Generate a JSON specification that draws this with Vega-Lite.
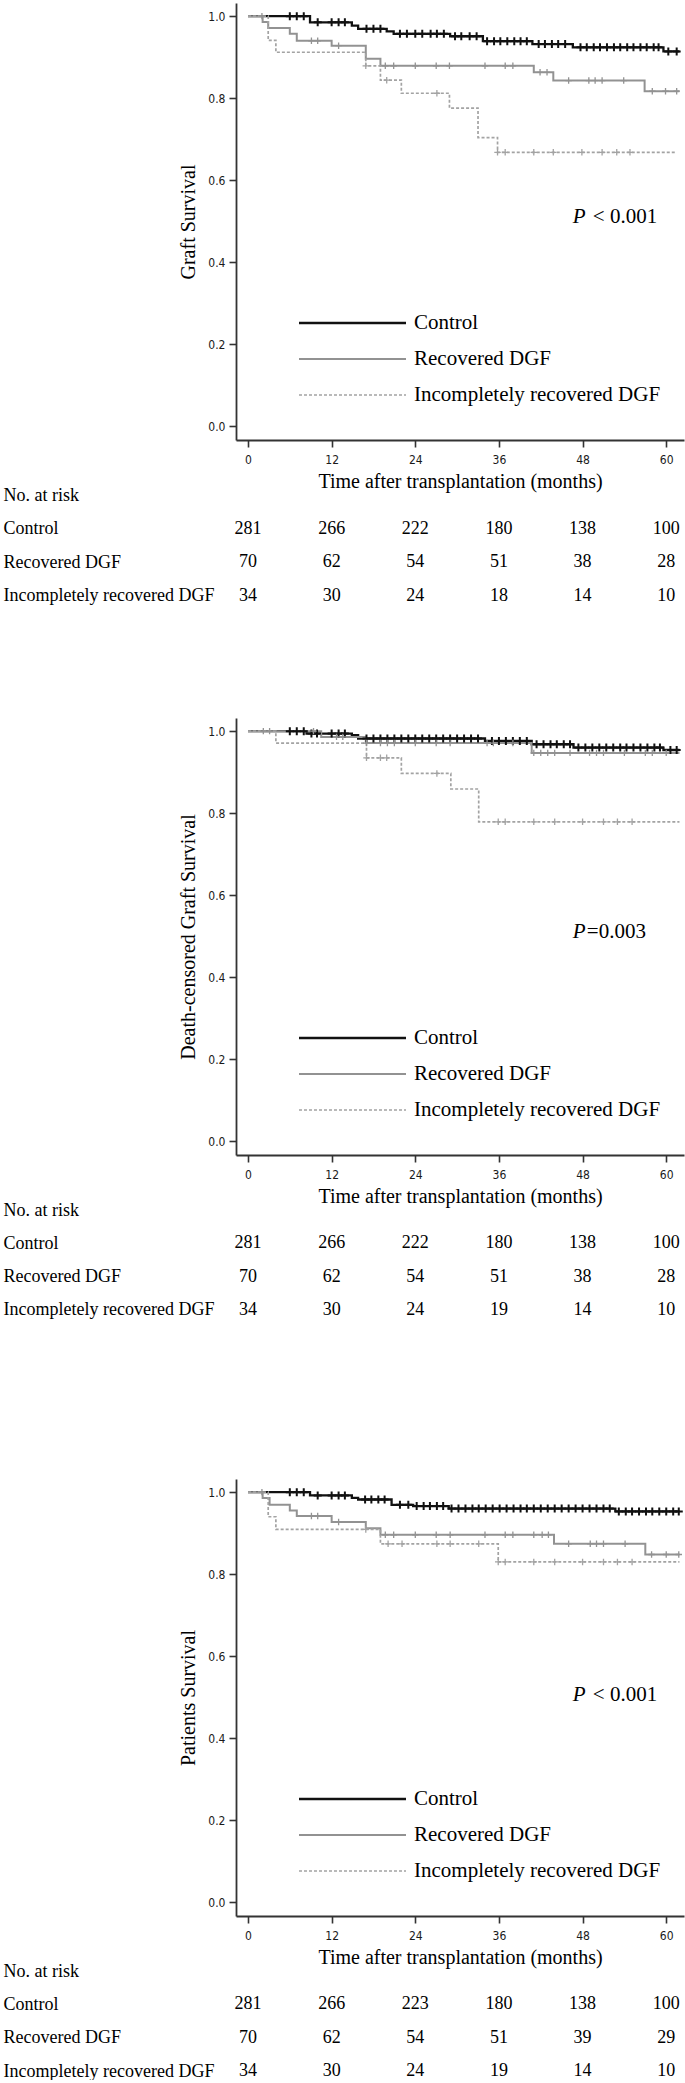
{
  "$schema": "https://vega.github.io/schema/vega-lite/v6.json",
  "background": "white",
  "padding": {"left": 3, "top": 3, "right": 0, "bottom": 0},
  "bounds": "flush",
  "spacing": 55,
  "config": {
    "view": {"stroke": null},
    "font": "Liberation Serif",
    "axis": {"grid": false, "labelFont": "Liberation Sans Narrow, Arial Narrow, DejaVu Sans Condensed, Liberation Sans, sans-serif", "labelFontSize": 12, "labelColor": "#1a1a1a", "tickColor": "#333333", "domainColor": "#333333", "tickSize": 7, "tickWidth": 1.6, "domainWidth": 1.8, "titleFont": "Liberation Serif", "titleFontSize": 20, "titleFontWeight": "normal", "titleColor": "#000000", "labelFlush": false}
  },
  "resolve": {
    "scale": {"x": "independent", "y": "independent", "color": "independent", "strokeDash": "independent", "strokeWidth": "independent"},
    "legend": {"color": "independent", "strokeDash": "independent", "strokeWidth": "independent"}
  },
  "datasets": {
    "curves": [
      {"panel":"G","group":"Control","t":0,"s":1},{"panel":"G","group":"Control","t":8.9,"s":0.985},{"panel":"G","group":"Control","t":14.9,"s":0.977},{"panel":"G","group":"Control","t":15.8,"s":0.969},{"panel":"G","group":"Control","t":19.9,"s":0.963},{"panel":"G","group":"Control","t":20.9,"s":0.957},{"panel":"G","group":"Control","t":29,"s":0.951},{"panel":"G","group":"Control","t":33.7,"s":0.939},{"panel":"G","group":"Control","t":40.8,"s":0.932},{"panel":"G","group":"Control","t":46.6,"s":0.924},{"panel":"G","group":"Control","t":59.6,"s":0.914},{"panel":"G","group":"Control","t":61.9,"s":0.914},
      {"panel":"G","group":"Recovered DGF","t":0,"s":1},{"panel":"G","group":"Recovered DGF","t":2.1,"s":0.986},{"panel":"G","group":"Recovered DGF","t":2.9,"s":0.971},{"panel":"G","group":"Recovered DGF","t":6,"s":0.957},{"panel":"G","group":"Recovered DGF","t":7,"s":0.94},{"panel":"G","group":"Recovered DGF","t":12,"s":0.928},{"panel":"G","group":"Recovered DGF","t":16.9,"s":0.896},{"panel":"G","group":"Recovered DGF","t":19,"s":0.879},{"panel":"G","group":"Recovered DGF","t":41,"s":0.863},{"panel":"G","group":"Recovered DGF","t":43.8,"s":0.843},{"panel":"G","group":"Recovered DGF","t":56.9,"s":0.817},{"panel":"G","group":"Recovered DGF","t":61.9,"s":0.817},
      {"panel":"G","group":"Incompletely recovered DGF","t":0,"s":1},{"panel":"G","group":"Incompletely recovered DGF","t":2.9,"s":0.941},{"panel":"G","group":"Incompletely recovered DGF","t":4,"s":0.912},{"panel":"G","group":"Incompletely recovered DGF","t":16.9,"s":0.879},{"panel":"G","group":"Incompletely recovered DGF","t":19,"s":0.844},{"panel":"G","group":"Incompletely recovered DGF","t":22,"s":0.812},{"panel":"G","group":"Incompletely recovered DGF","t":28.9,"s":0.776},{"panel":"G","group":"Incompletely recovered DGF","t":33,"s":0.704},{"panel":"G","group":"Incompletely recovered DGF","t":35.8,"s":0.668},{"panel":"G","group":"Incompletely recovered DGF","t":61.5,"s":0.668},
      {"panel":"D","group":"Control","t":0,"s":1},{"panel":"D","group":"Control","t":8.4,"s":0.994},{"panel":"D","group":"Control","t":14.9,"s":0.99},{"panel":"D","group":"Control","t":15.8,"s":0.982},{"panel":"D","group":"Control","t":34,"s":0.976},{"panel":"D","group":"Control","t":40.7,"s":0.968},{"panel":"D","group":"Control","t":46.7,"s":0.96},{"panel":"D","group":"Control","t":59.6,"s":0.954},{"panel":"D","group":"Control","t":61.9,"s":0.954},
      {"panel":"D","group":"Recovered DGF","t":0,"s":1},{"panel":"D","group":"Recovered DGF","t":10.5,"s":0.986},{"panel":"D","group":"Recovered DGF","t":16.9,"s":0.971},{"panel":"D","group":"Recovered DGF","t":40.7,"s":0.947},{"panel":"D","group":"Recovered DGF","t":61.9,"s":0.947},
      {"panel":"D","group":"Incompletely recovered DGF","t":0,"s":1},{"panel":"D","group":"Incompletely recovered DGF","t":4,"s":0.971},{"panel":"D","group":"Incompletely recovered DGF","t":17,"s":0.935},{"panel":"D","group":"Incompletely recovered DGF","t":22,"s":0.897},{"panel":"D","group":"Incompletely recovered DGF","t":29.1,"s":0.859},{"panel":"D","group":"Incompletely recovered DGF","t":33.1,"s":0.779},{"panel":"D","group":"Incompletely recovered DGF","t":61.9,"s":0.779},
      {"panel":"P","group":"Control","t":0,"s":1},{"panel":"P","group":"Control","t":8.9,"s":0.992},{"panel":"P","group":"Control","t":14.9,"s":0.986},{"panel":"P","group":"Control","t":15.8,"s":0.982},{"panel":"P","group":"Control","t":20.6,"s":0.969},{"panel":"P","group":"Control","t":23.7,"s":0.966},{"panel":"P","group":"Control","t":28.8,"s":0.96},{"panel":"P","group":"Control","t":52.7,"s":0.953},{"panel":"P","group":"Control","t":61.9,"s":0.953},
      {"panel":"P","group":"Recovered DGF","t":0,"s":1},{"panel":"P","group":"Recovered DGF","t":2.1,"s":0.986},{"panel":"P","group":"Recovered DGF","t":3.1,"s":0.969},{"panel":"P","group":"Recovered DGF","t":6,"s":0.955},{"panel":"P","group":"Recovered DGF","t":7,"s":0.942},{"panel":"P","group":"Recovered DGF","t":12,"s":0.927},{"panel":"P","group":"Recovered DGF","t":16.9,"s":0.912},{"panel":"P","group":"Recovered DGF","t":19,"s":0.896},{"panel":"P","group":"Recovered DGF","t":43.9,"s":0.874},{"panel":"P","group":"Recovered DGF","t":57,"s":0.848},{"panel":"P","group":"Recovered DGF","t":61.9,"s":0.848},
      {"panel":"P","group":"Incompletely recovered DGF","t":0,"s":1},{"panel":"P","group":"Incompletely recovered DGF","t":2.9,"s":0.94},{"panel":"P","group":"Incompletely recovered DGF","t":4,"s":0.909},{"panel":"P","group":"Incompletely recovered DGF","t":19,"s":0.874},{"panel":"P","group":"Incompletely recovered DGF","t":35.9,"s":0.83},{"panel":"P","group":"Incompletely recovered DGF","t":61.9,"s":0.83}
    ],
    "censor": [
      {"panel":"G","group":"Control","t":6,"s":1},{"panel":"G","group":"Control","t":7,"s":1},{"panel":"G","group":"Control","t":8,"s":1},
      {"panel":"G","group":"Control","t":10,"s":0.985},{"panel":"G","group":"Control","t":12,"s":0.985},{"panel":"G","group":"Control","t":13,"s":0.985},{"panel":"G","group":"Control","t":13.9,"s":0.985},
      {"panel":"G","group":"Control","t":17,"s":0.969},{"panel":"G","group":"Control","t":18,"s":0.969},{"panel":"G","group":"Control","t":19,"s":0.969},
      {"panel":"G","group":"Control","t":21.8,"s":0.957},{"panel":"G","group":"Control","t":22.8,"s":0.957},{"panel":"G","group":"Control","t":24,"s":0.957},{"panel":"G","group":"Control","t":25,"s":0.957},{"panel":"G","group":"Control","t":26.2,"s":0.957},{"panel":"G","group":"Control","t":27.1,"s":0.957},{"panel":"G","group":"Control","t":28.1,"s":0.957},
      {"panel":"G","group":"Control","t":29.7,"s":0.951},{"panel":"G","group":"Control","t":30.6,"s":0.951},{"panel":"G","group":"Control","t":31.8,"s":0.951},{"panel":"G","group":"Control","t":32.8,"s":0.951},
      {"panel":"G","group":"Control","t":34.3,"s":0.939},{"panel":"G","group":"Control","t":35.3,"s":0.939},{"panel":"G","group":"Control","t":36.2,"s":0.939},{"panel":"G","group":"Control","t":37.2,"s":0.939},{"panel":"G","group":"Control","t":38.2,"s":0.939},{"panel":"G","group":"Control","t":39.1,"s":0.939},{"panel":"G","group":"Control","t":40,"s":0.939},
      {"panel":"G","group":"Control","t":41.7,"s":0.932},{"panel":"G","group":"Control","t":42.6,"s":0.932},{"panel":"G","group":"Control","t":43.6,"s":0.932},{"panel":"G","group":"Control","t":44.5,"s":0.932},{"panel":"G","group":"Control","t":45.5,"s":0.932},
      {"panel":"G","group":"Control","t":47.7,"s":0.924},{"panel":"G","group":"Control","t":48.6,"s":0.924},{"panel":"G","group":"Control","t":49.6,"s":0.924},{"panel":"G","group":"Control","t":50.5,"s":0.924},{"panel":"G","group":"Control","t":51.5,"s":0.924},{"panel":"G","group":"Control","t":52.5,"s":0.924},{"panel":"G","group":"Control","t":53.4,"s":0.924},{"panel":"G","group":"Control","t":54.4,"s":0.924},{"panel":"G","group":"Control","t":55.3,"s":0.924},{"panel":"G","group":"Control","t":56.3,"s":0.924},{"panel":"G","group":"Control","t":57.2,"s":0.924},{"panel":"G","group":"Control","t":58.2,"s":0.924},{"panel":"G","group":"Control","t":58.9,"s":0.924},
      {"panel":"G","group":"Control","t":60.3,"s":0.914},{"panel":"G","group":"Control","t":61.5,"s":0.914},
      {"panel":"G","group":"Recovered DGF","t":2,"s":1},{"panel":"G","group":"Recovered DGF","t":9.1,"s":0.94},{"panel":"G","group":"Recovered DGF","t":10,"s":0.94},{"panel":"G","group":"Recovered DGF","t":13,"s":0.928},
      {"panel":"G","group":"Recovered DGF","t":19.7,"s":0.879},{"panel":"G","group":"Recovered DGF","t":20.9,"s":0.879},{"panel":"G","group":"Recovered DGF","t":24,"s":0.879},{"panel":"G","group":"Recovered DGF","t":27,"s":0.879},{"panel":"G","group":"Recovered DGF","t":28.9,"s":0.879},{"panel":"G","group":"Recovered DGF","t":34,"s":0.879},{"panel":"G","group":"Recovered DGF","t":36.9,"s":0.879},{"panel":"G","group":"Recovered DGF","t":38,"s":0.879},
      {"panel":"G","group":"Recovered DGF","t":41.9,"s":0.863},{"panel":"G","group":"Recovered DGF","t":42.9,"s":0.863},
      {"panel":"G","group":"Recovered DGF","t":46,"s":0.843},{"panel":"G","group":"Recovered DGF","t":48.9,"s":0.843},{"panel":"G","group":"Recovered DGF","t":49.8,"s":0.843},{"panel":"G","group":"Recovered DGF","t":50.8,"s":0.843},{"panel":"G","group":"Recovered DGF","t":53.9,"s":0.843},
      {"panel":"G","group":"Recovered DGF","t":58,"s":0.817},{"panel":"G","group":"Recovered DGF","t":59.9,"s":0.817},{"panel":"G","group":"Recovered DGF","t":61.5,"s":0.817},
      {"panel":"G","group":"Incompletely recovered DGF","t":16.9,"s":0.879},{"panel":"G","group":"Incompletely recovered DGF","t":19.9,"s":0.844},{"panel":"G","group":"Incompletely recovered DGF","t":27.1,"s":0.812},
      {"panel":"G","group":"Incompletely recovered DGF","t":35.8,"s":0.668},{"panel":"G","group":"Incompletely recovered DGF","t":36.9,"s":0.668},{"panel":"G","group":"Incompletely recovered DGF","t":41,"s":0.668},{"panel":"G","group":"Incompletely recovered DGF","t":43.8,"s":0.668},{"panel":"G","group":"Incompletely recovered DGF","t":47.9,"s":0.668},{"panel":"G","group":"Incompletely recovered DGF","t":50.8,"s":0.668},{"panel":"G","group":"Incompletely recovered DGF","t":52.9,"s":0.668},{"panel":"G","group":"Incompletely recovered DGF","t":54.8,"s":0.668},
      {"panel":"D","group":"Control","t":6,"s":1},{"panel":"D","group":"Control","t":7,"s":1},{"panel":"D","group":"Control","t":8,"s":1},
      {"panel":"D","group":"Control","t":9.1,"s":0.994},{"panel":"D","group":"Control","t":9.9,"s":0.994},{"panel":"D","group":"Control","t":12,"s":0.994},{"panel":"D","group":"Control","t":13,"s":0.994},{"panel":"D","group":"Control","t":13.9,"s":0.994},
      {"panel":"D","group":"Control","t":17,"s":0.982},{"panel":"D","group":"Control","t":18,"s":0.982},{"panel":"D","group":"Control","t":19,"s":0.982},{"panel":"D","group":"Control","t":20,"s":0.982},{"panel":"D","group":"Control","t":21,"s":0.982},{"panel":"D","group":"Control","t":22,"s":0.982},{"panel":"D","group":"Control","t":23,"s":0.982},{"panel":"D","group":"Control","t":24,"s":0.982},{"panel":"D","group":"Control","t":25,"s":0.982},{"panel":"D","group":"Control","t":26,"s":0.982},{"panel":"D","group":"Control","t":27,"s":0.982},{"panel":"D","group":"Control","t":28,"s":0.982},{"panel":"D","group":"Control","t":29,"s":0.982},{"panel":"D","group":"Control","t":30,"s":0.982},{"panel":"D","group":"Control","t":31,"s":0.982},{"panel":"D","group":"Control","t":32,"s":0.982},{"panel":"D","group":"Control","t":33,"s":0.982},
      {"panel":"D","group":"Control","t":35,"s":0.976},{"panel":"D","group":"Control","t":36,"s":0.976},{"panel":"D","group":"Control","t":37,"s":0.976},{"panel":"D","group":"Control","t":38,"s":0.976},{"panel":"D","group":"Control","t":39,"s":0.976},{"panel":"D","group":"Control","t":40,"s":0.976},
      {"panel":"D","group":"Control","t":41.4,"s":0.968},{"panel":"D","group":"Control","t":42.4,"s":0.968},{"panel":"D","group":"Control","t":43.4,"s":0.968},{"panel":"D","group":"Control","t":44.3,"s":0.968},{"panel":"D","group":"Control","t":45.3,"s":0.968},{"panel":"D","group":"Control","t":46.2,"s":0.968},
      {"panel":"D","group":"Control","t":47.4,"s":0.96},{"panel":"D","group":"Control","t":48.4,"s":0.96},{"panel":"D","group":"Control","t":49.4,"s":0.96},{"panel":"D","group":"Control","t":50.4,"s":0.96},{"panel":"D","group":"Control","t":51.4,"s":0.96},{"panel":"D","group":"Control","t":52.4,"s":0.96},{"panel":"D","group":"Control","t":53.4,"s":0.96},{"panel":"D","group":"Control","t":54.3,"s":0.96},{"panel":"D","group":"Control","t":55.3,"s":0.96},{"panel":"D","group":"Control","t":56.3,"s":0.96},{"panel":"D","group":"Control","t":57.3,"s":0.96},{"panel":"D","group":"Control","t":58.3,"s":0.96},{"panel":"D","group":"Control","t":59.1,"s":0.96},
      {"panel":"D","group":"Control","t":60.6,"s":0.954},{"panel":"D","group":"Control","t":61.5,"s":0.954},
      {"panel":"D","group":"Recovered DGF","t":2.2,"s":1},{"panel":"D","group":"Recovered DGF","t":3.1,"s":1},{"panel":"D","group":"Recovered DGF","t":9.4,"s":1},
      {"panel":"D","group":"Recovered DGF","t":12.7,"s":0.986},{"panel":"D","group":"Recovered DGF","t":13.6,"s":0.986},
      {"panel":"D","group":"Recovered DGF","t":17,"s":0.971},{"panel":"D","group":"Recovered DGF","t":19,"s":0.971},{"panel":"D","group":"Recovered DGF","t":20,"s":0.971},{"panel":"D","group":"Recovered DGF","t":21,"s":0.971},{"panel":"D","group":"Recovered DGF","t":24,"s":0.971},{"panel":"D","group":"Recovered DGF","t":27,"s":0.971},{"panel":"D","group":"Recovered DGF","t":29,"s":0.971},{"panel":"D","group":"Recovered DGF","t":34.3,"s":0.971},{"panel":"D","group":"Recovered DGF","t":35.2,"s":0.971},{"panel":"D","group":"Recovered DGF","t":38,"s":0.971},
      {"panel":"D","group":"Recovered DGF","t":41,"s":0.947},{"panel":"D","group":"Recovered DGF","t":42,"s":0.947},{"panel":"D","group":"Recovered DGF","t":43,"s":0.947},{"panel":"D","group":"Recovered DGF","t":44,"s":0.947},{"panel":"D","group":"Recovered DGF","t":46.2,"s":0.947},{"panel":"D","group":"Recovered DGF","t":49,"s":0.947},{"panel":"D","group":"Recovered DGF","t":50,"s":0.947},{"panel":"D","group":"Recovered DGF","t":51,"s":0.947},{"panel":"D","group":"Recovered DGF","t":54,"s":0.947},{"panel":"D","group":"Recovered DGF","t":57,"s":0.947},{"panel":"D","group":"Recovered DGF","t":58,"s":0.947},{"panel":"D","group":"Recovered DGF","t":60,"s":0.947},
      {"panel":"D","group":"Incompletely recovered DGF","t":17,"s":0.935},{"panel":"D","group":"Incompletely recovered DGF","t":19,"s":0.935},{"panel":"D","group":"Incompletely recovered DGF","t":19.9,"s":0.935},{"panel":"D","group":"Incompletely recovered DGF","t":27.1,"s":0.897},
      {"panel":"D","group":"Incompletely recovered DGF","t":35.9,"s":0.779},{"panel":"D","group":"Incompletely recovered DGF","t":36.9,"s":0.779},{"panel":"D","group":"Incompletely recovered DGF","t":41,"s":0.779},{"panel":"D","group":"Incompletely recovered DGF","t":44,"s":0.779},{"panel":"D","group":"Incompletely recovered DGF","t":48,"s":0.779},{"panel":"D","group":"Incompletely recovered DGF","t":51,"s":0.779},{"panel":"D","group":"Incompletely recovered DGF","t":53,"s":0.779},{"panel":"D","group":"Incompletely recovered DGF","t":55.1,"s":0.779},
      {"panel":"P","group":"Control","t":6,"s":1},{"panel":"P","group":"Control","t":7,"s":1},{"panel":"P","group":"Control","t":8,"s":1},
      {"panel":"P","group":"Control","t":10,"s":0.992},{"panel":"P","group":"Control","t":12,"s":0.992},{"panel":"P","group":"Control","t":13,"s":0.992},{"panel":"P","group":"Control","t":13.9,"s":0.992},
      {"panel":"P","group":"Control","t":16.8,"s":0.982},{"panel":"P","group":"Control","t":17.7,"s":0.982},{"panel":"P","group":"Control","t":18.7,"s":0.982},{"panel":"P","group":"Control","t":19.6,"s":0.982},
      {"panel":"P","group":"Control","t":21.8,"s":0.969},{"panel":"P","group":"Control","t":23,"s":0.969},
      {"panel":"P","group":"Control","t":24.2,"s":0.966},{"panel":"P","group":"Control","t":25.2,"s":0.966},{"panel":"P","group":"Control","t":26.1,"s":0.966},{"panel":"P","group":"Control","t":27.1,"s":0.966},{"panel":"P","group":"Control","t":28,"s":0.966},
      {"panel":"P","group":"Control","t":29.2,"s":0.96},{"panel":"P","group":"Control","t":30.2,"s":0.96},{"panel":"P","group":"Control","t":31.2,"s":0.96},{"panel":"P","group":"Control","t":32.2,"s":0.96},{"panel":"P","group":"Control","t":33.1,"s":0.96},{"panel":"P","group":"Control","t":34.1,"s":0.96},{"panel":"P","group":"Control","t":35.1,"s":0.96},{"panel":"P","group":"Control","t":36.1,"s":0.96},{"panel":"P","group":"Control","t":37.1,"s":0.96},{"panel":"P","group":"Control","t":38.1,"s":0.96},{"panel":"P","group":"Control","t":39.1,"s":0.96},{"panel":"P","group":"Control","t":40,"s":0.96},{"panel":"P","group":"Control","t":41,"s":0.96},{"panel":"P","group":"Control","t":42,"s":0.96},{"panel":"P","group":"Control","t":43,"s":0.96},{"panel":"P","group":"Control","t":44,"s":0.96},{"panel":"P","group":"Control","t":45,"s":0.96},{"panel":"P","group":"Control","t":46,"s":0.96},{"panel":"P","group":"Control","t":47,"s":0.96},{"panel":"P","group":"Control","t":48,"s":0.96},{"panel":"P","group":"Control","t":49,"s":0.96},{"panel":"P","group":"Control","t":50,"s":0.96},{"panel":"P","group":"Control","t":51,"s":0.96},{"panel":"P","group":"Control","t":51.9,"s":0.96},
      {"panel":"P","group":"Control","t":53.2,"s":0.953},{"panel":"P","group":"Control","t":54.2,"s":0.953},{"panel":"P","group":"Control","t":55.1,"s":0.953},{"panel":"P","group":"Control","t":56.1,"s":0.953},{"panel":"P","group":"Control","t":57.1,"s":0.953},{"panel":"P","group":"Control","t":58,"s":0.953},{"panel":"P","group":"Control","t":59,"s":0.953},{"panel":"P","group":"Control","t":60,"s":0.953},{"panel":"P","group":"Control","t":61,"s":0.953},{"panel":"P","group":"Control","t":61.8,"s":0.953},
      {"panel":"P","group":"Recovered DGF","t":2,"s":1},{"panel":"P","group":"Recovered DGF","t":9.1,"s":0.942},{"panel":"P","group":"Recovered DGF","t":10,"s":0.942},{"panel":"P","group":"Recovered DGF","t":13,"s":0.927},
      {"panel":"P","group":"Recovered DGF","t":19.7,"s":0.896},{"panel":"P","group":"Recovered DGF","t":20.9,"s":0.896},{"panel":"P","group":"Recovered DGF","t":24,"s":0.896},{"panel":"P","group":"Recovered DGF","t":27,"s":0.896},{"panel":"P","group":"Recovered DGF","t":29,"s":0.896},{"panel":"P","group":"Recovered DGF","t":34,"s":0.896},{"panel":"P","group":"Recovered DGF","t":36.9,"s":0.896},{"panel":"P","group":"Recovered DGF","t":38,"s":0.896},{"panel":"P","group":"Recovered DGF","t":41,"s":0.896},{"panel":"P","group":"Recovered DGF","t":42.2,"s":0.896},{"panel":"P","group":"Recovered DGF","t":43.1,"s":0.896},
      {"panel":"P","group":"Recovered DGF","t":46,"s":0.874},{"panel":"P","group":"Recovered DGF","t":49.1,"s":0.874},{"panel":"P","group":"Recovered DGF","t":50,"s":0.874},{"panel":"P","group":"Recovered DGF","t":51,"s":0.874},{"panel":"P","group":"Recovered DGF","t":54.1,"s":0.874},
      {"panel":"P","group":"Recovered DGF","t":57.9,"s":0.848},{"panel":"P","group":"Recovered DGF","t":60,"s":0.848},{"panel":"P","group":"Recovered DGF","t":61.8,"s":0.848},
      {"panel":"P","group":"Incompletely recovered DGF","t":16.9,"s":0.909},
      {"panel":"P","group":"Incompletely recovered DGF","t":20.1,"s":0.874},{"panel":"P","group":"Incompletely recovered DGF","t":22.1,"s":0.874},{"panel":"P","group":"Incompletely recovered DGF","t":27.1,"s":0.874},{"panel":"P","group":"Incompletely recovered DGF","t":29,"s":0.874},{"panel":"P","group":"Incompletely recovered DGF","t":33.1,"s":0.874},
      {"panel":"P","group":"Incompletely recovered DGF","t":35.9,"s":0.83},{"panel":"P","group":"Incompletely recovered DGF","t":36.9,"s":0.83},{"panel":"P","group":"Incompletely recovered DGF","t":41,"s":0.83},{"panel":"P","group":"Incompletely recovered DGF","t":44,"s":0.83},{"panel":"P","group":"Incompletely recovered DGF","t":48,"s":0.83},{"panel":"P","group":"Incompletely recovered DGF","t":51,"s":0.83},{"panel":"P","group":"Incompletely recovered DGF","t":53,"s":0.83},{"panel":"P","group":"Incompletely recovered DGF","t":55.1,"s":0.83}
    ],
    "risk": [
      {"panel":"G","group":"Control","t":0,"n":281},{"panel":"G","group":"Control","t":12,"n":266},{"panel":"G","group":"Control","t":24,"n":222},{"panel":"G","group":"Control","t":36,"n":180},{"panel":"G","group":"Control","t":48,"n":138},{"panel":"G","group":"Control","t":60,"n":100},
      {"panel":"G","group":"Recovered DGF","t":0,"n":70},{"panel":"G","group":"Recovered DGF","t":12,"n":62},{"panel":"G","group":"Recovered DGF","t":24,"n":54},{"panel":"G","group":"Recovered DGF","t":36,"n":51},{"panel":"G","group":"Recovered DGF","t":48,"n":38},{"panel":"G","group":"Recovered DGF","t":60,"n":28},
      {"panel":"G","group":"Incompletely recovered DGF","t":0,"n":34},{"panel":"G","group":"Incompletely recovered DGF","t":12,"n":30},{"panel":"G","group":"Incompletely recovered DGF","t":24,"n":24},{"panel":"G","group":"Incompletely recovered DGF","t":36,"n":18},{"panel":"G","group":"Incompletely recovered DGF","t":48,"n":14},{"panel":"G","group":"Incompletely recovered DGF","t":60,"n":10},
      {"panel":"D","group":"Control","t":0,"n":281},{"panel":"D","group":"Control","t":12,"n":266},{"panel":"D","group":"Control","t":24,"n":222},{"panel":"D","group":"Control","t":36,"n":180},{"panel":"D","group":"Control","t":48,"n":138},{"panel":"D","group":"Control","t":60,"n":100},
      {"panel":"D","group":"Recovered DGF","t":0,"n":70},{"panel":"D","group":"Recovered DGF","t":12,"n":62},{"panel":"D","group":"Recovered DGF","t":24,"n":54},{"panel":"D","group":"Recovered DGF","t":36,"n":51},{"panel":"D","group":"Recovered DGF","t":48,"n":38},{"panel":"D","group":"Recovered DGF","t":60,"n":28},
      {"panel":"D","group":"Incompletely recovered DGF","t":0,"n":34},{"panel":"D","group":"Incompletely recovered DGF","t":12,"n":30},{"panel":"D","group":"Incompletely recovered DGF","t":24,"n":24},{"panel":"D","group":"Incompletely recovered DGF","t":36,"n":19},{"panel":"D","group":"Incompletely recovered DGF","t":48,"n":14},{"panel":"D","group":"Incompletely recovered DGF","t":60,"n":10},
      {"panel":"P","group":"Control","t":0,"n":281},{"panel":"P","group":"Control","t":12,"n":266},{"panel":"P","group":"Control","t":24,"n":223},{"panel":"P","group":"Control","t":36,"n":180},{"panel":"P","group":"Control","t":48,"n":138},{"panel":"P","group":"Control","t":60,"n":100},
      {"panel":"P","group":"Recovered DGF","t":0,"n":70},{"panel":"P","group":"Recovered DGF","t":12,"n":62},{"panel":"P","group":"Recovered DGF","t":24,"n":54},{"panel":"P","group":"Recovered DGF","t":36,"n":51},{"panel":"P","group":"Recovered DGF","t":48,"n":39},{"panel":"P","group":"Recovered DGF","t":60,"n":29},
      {"panel":"P","group":"Incompletely recovered DGF","t":0,"n":34},{"panel":"P","group":"Incompletely recovered DGF","t":12,"n":30},{"panel":"P","group":"Incompletely recovered DGF","t":24,"n":24},{"panel":"P","group":"Incompletely recovered DGF","t":36,"n":19},{"panel":"P","group":"Incompletely recovered DGF","t":48,"n":14},{"panel":"P","group":"Incompletely recovered DGF","t":60,"n":10}
    ],
    "pval": [
      {"panel":"G","sym":"P","val":"< 0.001","t":46.6,"s":0.51},
      {"panel":"D","sym":"P","val":"=0.003","t":46.6,"s":0.51},
      {"panel":"P","sym":"P","val":"< 0.001","t":46.6,"s":0.505}
    ]
  },
  "vconcat": [
    {
      "width": 448, "height": 437,
      "encoding": {
        "x": {"field": "t", "type": "quantitative", "scale": {"domain": [-1.72, 62.55], "zero": false, "nice": false}, "axis": {"values": [0, 12, 24, 36, 48, 60], "labelPadding": 7, "title": "Time after transplantation (months)", "titlePadding": 6}},
        "y": {"field": "s", "type": "quantitative", "scale": {"domain": [-0.033, 1.032], "zero": false, "nice": false}, "axis": {"values": [0, 0.2, 0.4, 0.6, 0.8, 1], "format": ".1f", "labelPadding": 4, "title": "Graft Survival", "titleX": -48, "titleBaseline": "middle"}}
      },
      "layer": [
        {"data": {"name": "curves"}, "transform": [{"filter": "datum.panel === 'G'"}],
         "mark": {"type": "line", "interpolate": "step-after"},
         "encoding": {
           "color": {"field": "group", "type": "nominal", "title": null, "scale": {"domain": ["Control", "Recovered DGF", "Incompletely recovered DGF"], "range": ["#111111", "#929292", "#a3a3a3"]}, "legend": {"orient": "none", "legendX": 60, "legendY": 309.5, "symbolType": "M-10,0H10", "symbolSize": 114.5, "symbolOffset": 46, "labelOffset": 51, "labelFont": "Liberation Serif", "labelFontSize": 21, "labelColor": "#000000", "rowPadding": 14, "padding": 0, "labelLimit": 400, "title": null}},
           "strokeDash": {"field": "group", "type": "nominal", "title": null, "scale": {"domain": ["Control", "Recovered DGF", "Incompletely recovered DGF"], "range": [[1, 0], [1, 0], [3, 2]]}, "legend": {"orient": "none", "legendX": 60, "legendY": 309.5, "symbolType": "M-10,0H10", "symbolSize": 114.5, "symbolOffset": 46, "labelOffset": 51, "labelFont": "Liberation Serif", "labelFontSize": 21, "labelColor": "#000000", "rowPadding": 14, "padding": 0, "labelLimit": 400, "title": null}},
           "strokeWidth": {"field": "group", "type": "ordinal", "title": null, "scale": {"domain": ["Control", "Recovered DGF", "Incompletely recovered DGF"], "range": [2.3, 1.7, 1.4]}, "legend": {"orient": "none", "legendX": 60, "legendY": 309.5, "symbolType": "M-10,0H10", "symbolSize": 114.5, "symbolOffset": 46, "labelOffset": 51, "labelFont": "Liberation Serif", "labelFontSize": 21, "labelColor": "#000000", "rowPadding": 14, "padding": 0, "labelLimit": 400, "title": null}}
         }},
        {"data": {"name": "censor"}, "transform": [{"filter": "datum.panel === 'G' && datum.group === 'Control'"}],
         "mark": {"type": "point", "shape": "M-1,0H1M0,-1V1", "filled": false, "opacity": 1, "strokeWidth": 2, "size": 64, "stroke": "#111111"}},
        {"data": {"name": "censor"}, "transform": [{"filter": "datum.panel === 'G' && datum.group === 'Recovered DGF'"}],
         "mark": {"type": "point", "shape": "M-1,0H1M0,-1V1", "filled": false, "opacity": 1, "strokeWidth": 1.3, "size": 42, "stroke": "#929292"}},
        {"data": {"name": "censor"}, "transform": [{"filter": "datum.panel === 'G' && datum.group === 'Incompletely recovered DGF'"}],
         "mark": {"type": "point", "shape": "M-1,0H1M0,-1V1", "filled": false, "opacity": 1, "strokeWidth": 1.3, "size": 42, "stroke": "#a3a3a3"}},
        {"data": {"name": "pval"}, "transform": [{"filter": "datum.panel === 'G'"}],
         "mark": {"type": "text", "align": "left", "baseline": "middle", "fontStyle": "italic", "fontSize": 21, "font": "Liberation Serif", "color": "#000000"},
         "encoding": {"text": {"field": "sym"}}},
        {"data": {"name": "pval"}, "transform": [{"filter": "datum.panel === 'G'"}],
         "mark": {"type": "text", "align": "left", "baseline": "middle", "dx": 20, "fontSize": 21, "font": "Liberation Serif", "color": "#000000"},
         "encoding": {"text": {"field": "val"}}}
      ]
    },
    {
      "width": 448, "height": 168,
      "data": {"name": "risk"}, "transform": [{"filter": "datum.panel === 'G'"}],
      "mark": {"type": "text", "fontSize": 18, "font": "Liberation Serif", "color": "#000000", "baseline": "middle", "align": "center"},
      "encoding": {
        "x": {"field": "t", "type": "quantitative", "scale": {"domain": [-1.72, 62.55], "zero": false, "nice": false}, "axis": null},
        "y": {"field": "group", "type": "nominal", "scale": {"type": "point", "domain": ["No. at risk", "Control", "Recovered DGF", "Incompletely recovered DGF"], "padding": 1, "align": 0}, "axis": {"title": null, "domain": false, "ticks": false, "tickSize": 0, "labelAlign": "left", "labelPadding": 233, "labelFont": "Liberation Serif", "labelFontSize": 18, "labelColor": "#000000", "labelLimit": 300}},
        "text": {"field": "n", "type": "nominal"}
      }
    },
    {
      "width": 448, "height": 437,
      "encoding": {
        "x": {"field": "t", "type": "quantitative", "scale": {"domain": [-1.72, 62.55], "zero": false, "nice": false}, "axis": {"values": [0, 12, 24, 36, 48, 60], "labelPadding": 7, "title": "Time after transplantation (months)", "titlePadding": 6}},
        "y": {"field": "s", "type": "quantitative", "scale": {"domain": [-0.033, 1.032], "zero": false, "nice": false}, "axis": {"values": [0, 0.2, 0.4, 0.6, 0.8, 1], "format": ".1f", "labelPadding": 4, "title": "Death-censored Graft Survival", "titleX": -48, "titleBaseline": "middle"}}
      },
      "layer": [
        {"data": {"name": "curves"}, "transform": [{"filter": "datum.panel === 'D'"}],
         "mark": {"type": "line", "interpolate": "step-after"},
         "encoding": {
           "color": {"field": "group", "type": "nominal", "title": null, "scale": {"domain": ["Control", "Recovered DGF", "Incompletely recovered DGF"], "range": ["#111111", "#929292", "#a3a3a3"]}, "legend": {"orient": "none", "legendX": 60, "legendY": 309.5, "symbolType": "M-10,0H10", "symbolSize": 114.5, "symbolOffset": 46, "labelOffset": 51, "labelFont": "Liberation Serif", "labelFontSize": 21, "labelColor": "#000000", "rowPadding": 14, "padding": 0, "labelLimit": 400, "title": null}},
           "strokeDash": {"field": "group", "type": "nominal", "title": null, "scale": {"domain": ["Control", "Recovered DGF", "Incompletely recovered DGF"], "range": [[1, 0], [1, 0], [3, 2]]}, "legend": {"orient": "none", "legendX": 60, "legendY": 309.5, "symbolType": "M-10,0H10", "symbolSize": 114.5, "symbolOffset": 46, "labelOffset": 51, "labelFont": "Liberation Serif", "labelFontSize": 21, "labelColor": "#000000", "rowPadding": 14, "padding": 0, "labelLimit": 400, "title": null}},
           "strokeWidth": {"field": "group", "type": "ordinal", "title": null, "scale": {"domain": ["Control", "Recovered DGF", "Incompletely recovered DGF"], "range": [2.3, 1.7, 1.4]}, "legend": {"orient": "none", "legendX": 60, "legendY": 309.5, "symbolType": "M-10,0H10", "symbolSize": 114.5, "symbolOffset": 46, "labelOffset": 51, "labelFont": "Liberation Serif", "labelFontSize": 21, "labelColor": "#000000", "rowPadding": 14, "padding": 0, "labelLimit": 400, "title": null}}
         }},
        {"data": {"name": "censor"}, "transform": [{"filter": "datum.panel === 'D' && datum.group === 'Control'"}],
         "mark": {"type": "point", "shape": "M-1,0H1M0,-1V1", "filled": false, "opacity": 1, "strokeWidth": 2, "size": 64, "stroke": "#111111"}},
        {"data": {"name": "censor"}, "transform": [{"filter": "datum.panel === 'D' && datum.group === 'Recovered DGF'"}],
         "mark": {"type": "point", "shape": "M-1,0H1M0,-1V1", "filled": false, "opacity": 1, "strokeWidth": 1.3, "size": 42, "stroke": "#929292"}},
        {"data": {"name": "censor"}, "transform": [{"filter": "datum.panel === 'D' && datum.group === 'Incompletely recovered DGF'"}],
         "mark": {"type": "point", "shape": "M-1,0H1M0,-1V1", "filled": false, "opacity": 1, "strokeWidth": 1.3, "size": 42, "stroke": "#a3a3a3"}},
        {"data": {"name": "pval"}, "transform": [{"filter": "datum.panel === 'D'"}],
         "mark": {"type": "text", "align": "left", "baseline": "middle", "fontStyle": "italic", "fontSize": 21, "font": "Liberation Serif", "color": "#000000"},
         "encoding": {"text": {"field": "sym"}}},
        {"data": {"name": "pval"}, "transform": [{"filter": "datum.panel === 'D'"}],
         "mark": {"type": "text", "align": "left", "baseline": "middle", "dx": 14, "fontSize": 21, "font": "Liberation Serif", "color": "#000000"},
         "encoding": {"text": {"field": "val"}}}
      ]
    },
    {
      "width": 448, "height": 214,
      "data": {"name": "risk"}, "transform": [{"filter": "datum.panel === 'D'"}],
      "mark": {"type": "text", "fontSize": 18, "font": "Liberation Serif", "color": "#000000", "baseline": "middle", "align": "center"},
      "encoding": {
        "x": {"field": "t", "type": "quantitative", "scale": {"domain": [-1.72, 62.55], "zero": false, "nice": false}, "axis": null},
        "y": {"field": "group", "type": "nominal", "scale": {"type": "point", "domain": ["No. at risk", "Control", "Recovered DGF", "Incompletely recovered DGF", "pad1", "pad2"], "padding": 0.713, "align": 0}, "axis": {"values": ["No. at risk", "Control", "Recovered DGF", "Incompletely recovered DGF"], "title": null, "domain": false, "ticks": false, "tickSize": 0, "labelAlign": "left", "labelPadding": 233, "labelFont": "Liberation Serif", "labelFontSize": 18, "labelColor": "#000000", "labelLimit": 300}},
        "text": {"field": "n", "type": "nominal"}
      }
    },
    {
      "width": 448, "height": 437,
      "encoding": {
        "x": {"field": "t", "type": "quantitative", "scale": {"domain": [-1.72, 62.55], "zero": false, "nice": false}, "axis": {"values": [0, 12, 24, 36, 48, 60], "labelPadding": 7, "title": "Time after transplantation (months)", "titlePadding": 6}},
        "y": {"field": "s", "type": "quantitative", "scale": {"domain": [-0.033, 1.032], "zero": false, "nice": false}, "axis": {"values": [0, 0.2, 0.4, 0.6, 0.8, 1], "format": ".1f", "labelPadding": 4, "title": "Patients Survival", "titleX": -48, "titleBaseline": "middle"}}
      },
      "layer": [
        {"data": {"name": "curves"}, "transform": [{"filter": "datum.panel === 'P'"}],
         "mark": {"type": "line", "interpolate": "step-after"},
         "encoding": {
           "color": {"field": "group", "type": "nominal", "title": null, "scale": {"domain": ["Control", "Recovered DGF", "Incompletely recovered DGF"], "range": ["#111111", "#929292", "#a3a3a3"]}, "legend": {"orient": "none", "legendX": 60, "legendY": 309.5, "symbolType": "M-10,0H10", "symbolSize": 114.5, "symbolOffset": 46, "labelOffset": 51, "labelFont": "Liberation Serif", "labelFontSize": 21, "labelColor": "#000000", "rowPadding": 14, "padding": 0, "labelLimit": 400, "title": null}},
           "strokeDash": {"field": "group", "type": "nominal", "title": null, "scale": {"domain": ["Control", "Recovered DGF", "Incompletely recovered DGF"], "range": [[1, 0], [1, 0], [3, 2]]}, "legend": {"orient": "none", "legendX": 60, "legendY": 309.5, "symbolType": "M-10,0H10", "symbolSize": 114.5, "symbolOffset": 46, "labelOffset": 51, "labelFont": "Liberation Serif", "labelFontSize": 21, "labelColor": "#000000", "rowPadding": 14, "padding": 0, "labelLimit": 400, "title": null}},
           "strokeWidth": {"field": "group", "type": "ordinal", "title": null, "scale": {"domain": ["Control", "Recovered DGF", "Incompletely recovered DGF"], "range": [2.3, 1.7, 1.4]}, "legend": {"orient": "none", "legendX": 60, "legendY": 309.5, "symbolType": "M-10,0H10", "symbolSize": 114.5, "symbolOffset": 46, "labelOffset": 51, "labelFont": "Liberation Serif", "labelFontSize": 21, "labelColor": "#000000", "rowPadding": 14, "padding": 0, "labelLimit": 400, "title": null}}
         }},
        {"data": {"name": "censor"}, "transform": [{"filter": "datum.panel === 'P' && datum.group === 'Control'"}],
         "mark": {"type": "point", "shape": "M-1,0H1M0,-1V1", "filled": false, "opacity": 1, "strokeWidth": 2, "size": 64, "stroke": "#111111"}},
        {"data": {"name": "censor"}, "transform": [{"filter": "datum.panel === 'P' && datum.group === 'Recovered DGF'"}],
         "mark": {"type": "point", "shape": "M-1,0H1M0,-1V1", "filled": false, "opacity": 1, "strokeWidth": 1.3, "size": 42, "stroke": "#929292"}},
        {"data": {"name": "censor"}, "transform": [{"filter": "datum.panel === 'P' && datum.group === 'Incompletely recovered DGF'"}],
         "mark": {"type": "point", "shape": "M-1,0H1M0,-1V1", "filled": false, "opacity": 1, "strokeWidth": 1.3, "size": 42, "stroke": "#a3a3a3"}},
        {"data": {"name": "pval"}, "transform": [{"filter": "datum.panel === 'P'"}],
         "mark": {"type": "text", "align": "left", "baseline": "middle", "fontStyle": "italic", "fontSize": 21, "font": "Liberation Serif", "color": "#000000"},
         "encoding": {"text": {"field": "sym"}}},
        {"data": {"name": "pval"}, "transform": [{"filter": "datum.panel === 'P'"}],
         "mark": {"type": "text", "align": "left", "baseline": "middle", "dx": 20, "fontSize": 21, "font": "Liberation Serif", "color": "#000000"},
         "encoding": {"text": {"field": "val"}}}
      ]
    },
    {
      "width": 448, "height": 100,
      "data": {"name": "risk"}, "transform": [{"filter": "datum.panel === 'P'"}],
      "mark": {"type": "text", "fontSize": 18, "font": "Liberation Serif", "color": "#000000", "baseline": "middle", "align": "center"},
      "encoding": {
        "x": {"field": "t", "type": "quantitative", "scale": {"domain": [-1.72, 62.55], "zero": false, "nice": false}, "axis": null},
        "y": {"field": "group", "type": "nominal", "scale": {"type": "point", "domain": ["No. at risk", "Control", "Recovered DGF", "Incompletely recovered DGF"], "padding": 0, "align": 0}, "axis": {"title": null, "domain": false, "ticks": false, "tickSize": 0, "labelAlign": "left", "labelPadding": 233, "labelFont": "Liberation Serif", "labelFontSize": 18, "labelColor": "#000000", "labelLimit": 300}},
        "text": {"field": "n", "type": "nominal"}
      }
    }
  ]
}
